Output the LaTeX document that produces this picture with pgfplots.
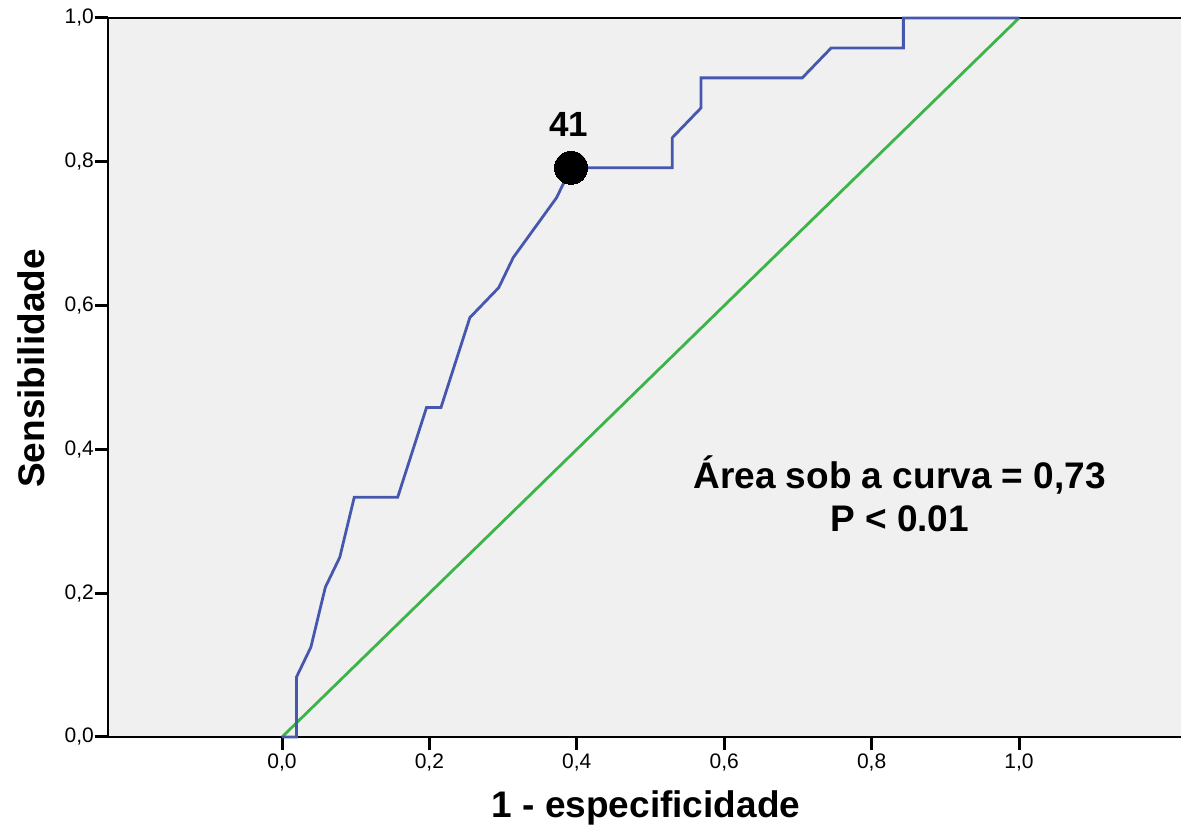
\documentclass[border=0pt]{standalone}
\usepackage{pgfplots}
\pgfplotsset{compat=1.18}
\usepackage{fontspec}
\setmainfont{Liberation Sans}
\definecolor{roc}{RGB}{70,88,174}
\definecolor{refl}{RGB}{60,180,74}
\definecolor{bg}{RGB}{240,240,240}
\begin{document}
\begin{tikzpicture}
\useasboundingbox (0,0) rectangle (1181pt,826pt);
\begin{axis}[
  at={(108pt,89pt)}, anchor=south west,
  scale only axis, width=1073pt, height=719pt,
  xmin=-0.2361, xmax=1.2198, ymin=0, ymax=1,
  axis background/.style={fill=bg},
  axis line style={draw=none},
  clip=false,
  xtick={0,0.2,0.4,0.6,0.8,1}, ytick={0,0.2,0.4,0.6,0.8,1},
  xtick pos=bottom, ytick pos=left,
  tick align=outside, major tick length=13pt,
  every tick/.style={black, line width=3pt},
  /pgf/number format/.cd, fixed, fixed zerofill, precision=1, use comma, assume math mode=true,
  /pgfplots/.cd,
  tick label style={font=\fontsize{21}{25}\selectfont, black},
  yticklabel style={inner xsep=1pt},
  xlabel={1 - especificidade},
  ylabel={Sensibilidade},
  xlabel style={at={(axis description cs:0.5014,-0.1113)}, anchor=base, font=\bfseries\fontsize{37}{42}\selectfont},
  ylabel style={at={(axis description cs:-0.0596,0.5125)}, anchor=base, font=\bfseries\fontsize{37}{42}\selectfont},
]
\draw[black, line width=2.5pt] (rel axis cs:0,1) -- (rel axis cs:1,1);
\draw[black, line width=2.5pt] (rel axis cs:0,1) -- (rel axis cs:0,0) -- (rel axis cs:1,0);
\addplot[refl, line width=2.8pt] coordinates {(0,0) (1,1)};
\addplot[roc, line width=2.8pt] coordinates {
(0,0) (0.0196,0) (0.0196,0.0833) (0.0392,0.125) (0.0588,0.2083) (0.0784,0.25)
(0.0980,0.3333) (0.1569,0.3333) (0.1961,0.4583) (0.2157,0.4583) (0.2549,0.5833)
(0.2941,0.625) (0.3137,0.6667) (0.3725,0.75) (0.3922,0.7917) (0.5294,0.7917)
(0.5294,0.8333) (0.5686,0.875) (0.5686,0.9167) (0.7059,0.9167) (0.7451,0.9583)
(0.8431,0.9583) (0.8431,1) (1,1)};
\addplot[only marks, mark=*, mark size=16.5pt, mark options={fill=black, draw=black, line width=0pt}] coordinates {(0.3922,0.7917)};
\node[anchor=center, font=\bfseries\fontsize{35}{40}\selectfont] at (axis cs:0.3894,0.852) {41};
\node[anchor=base, font=\bfseries\fontsize{37}{42}\selectfont] at (axis cs:0.838,0.3456) {Área sob a curva = 0,73};
\node[anchor=base, font=\bfseries\fontsize{37}{42}\selectfont] at (axis cs:0.838,0.2855) {P < 0.01};
\end{axis}
\end{tikzpicture}
\end{document}
